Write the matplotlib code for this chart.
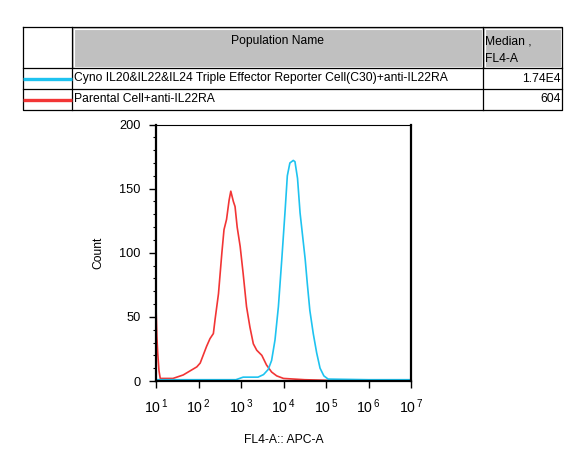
import matplotlib.pyplot as plt
import numpy as np
from matplotlib.patches import Rectangle
from matplotlib.ticker import FixedLocator, LogLocator, NullFormatter, MultipleLocator

plt.rcParams['font.family'] = ['Liberation Sans', 'DejaVu Sans']
plt.rcParams['mathtext.fontset'] = 'custom'
plt.rcParams['mathtext.rm'] = 'Liberation Sans'

# histogram outlines: log10(FL4-A) vs count
red_log = [1.00, 1.02, 1.04, 1.07, 1.10, 1.40, 1.64, 1.96, 2.04, 2.19, 2.27, 2.35, 2.39,
           2.47, 2.55, 2.60, 2.66, 2.72, 2.76, 2.82, 2.86, 2.91, 2.98, 3.05, 3.13,
           3.21, 3.29, 3.37, 3.49, 3.60, 3.72, 3.84, 4.00, 4.50, 5.05]
red_count = [58, 35, 22, 8, 2, 2, 4.7, 11, 14, 27, 33, 37, 48,
             68, 100, 118, 126, 141, 148, 140, 136, 120, 105, 84, 58,
             42, 29, 24, 20, 12.5, 7, 4, 2, 1, 0.5]

blue_log = [1.00, 2.88, 3.05, 3.40, 3.53, 3.64, 3.72, 3.80, 3.88, 3.96, 4.04, 4.09,
            4.15, 4.23, 4.27, 4.33, 4.39, 4.45, 4.51, 4.56, 4.62, 4.70, 4.78,
            4.86, 4.95, 5.05, 6.00, 7.00]
blue_count = [1, 1, 3, 3, 5, 9, 16, 32, 58, 95, 134, 160,
              170, 172, 171, 158, 131, 113, 95, 76, 55, 37, 22,
              10, 4, 1.5, 1, 1]

pop_names = ['Cyno IL20&IL22&IL24 Triple Effector Reporter Cell(C30)+anti-IL22RA',
             'Parental Cell+anti-IL22RA']
medians = ['1.74E4', '604']
pop_colors = ['#1ec3f0', '#f23535']

decades = [1, 2, 3, 4, 5, 6, 7]
y_ticks = [0, 50, 100, 150, 200]

fs = 8.7

fig = plt.figure(figsize=(5.76, 4.67), dpi=100)

# ---- table on top, drawn in pixel coords ----
tab = fig.add_axes([0, 0, 1, 1])
tab.set_xlim(0, 576)
tab.set_ylim(467, 0)
tab.set_axis_off()

x0, x1, x2, x3 = 23, 72, 483, 562
y0, y1, y2, y3 = 27, 68, 89, 110
for xa, xb in [(x1, x2), (x2, x3)]:
    tab.add_patch(Rectangle((xa, y0), xb - xa, y1 - y0, facecolor='#c0c0c0', edgecolor='none'))
    tab.add_patch(Rectangle((xa + 1.5, y0 + 1.5), xb - xa - 3, y1 - y0 - 3,
                            facecolor='none', edgecolor='white', lw=0.8))
lk = dict(color='black', lw=0.9)
tab.plot([x0, x3, x3, x0, x0], [y0, y0, y3, y3, y0], **lk)
for yy in (y1, y2):
    tab.plot([x0, x3], [yy, yy], **lk)
for xx in (x1, x2):
    tab.plot([xx, xx], [y0, y3], **lk)

tab.text((x1 + x2) / 2, 41, 'Population Name', ha='center', va='center', fontsize=fs)
tab.text(x2 + 2, 41, 'Median ,', ha='left', va='center', fontsize=fs)
tab.text(x2 + 2, 59, 'FL4-A', ha='left', va='center', fontsize=fs)
for i, (nm, md, col) in enumerate(zip(pop_names, medians, pop_colors)):
    yc = (y1 + y2) / 2 if i == 0 else (y2 + y3) / 2
    tab.plot([x0, x1], [yc, yc], color=col, lw=2.4, solid_capstyle='butt')
    tab.text(x1 + 2, yc, nm, ha='left', va='center', fontsize=fs)
    tab.text(x3 - 1, yc, md, ha='right', va='center', fontsize=fs)

# ---- histogram ----
ax = fig.add_axes([156 / 576, 1 - 381 / 467, 255 / 576, 256.5 / 467])
ax.plot(10 ** np.array(red_log), red_count, color=pop_colors[1], lw=1.2)
ax.plot(10 ** np.array(blue_log), blue_count, color=pop_colors[0], lw=1.2)

ax.set_xscale('log')
ax.set_xlim(10 ** decades[0], 10 ** decades[-1])
ax.set_ylim(0, 200)
ax.xaxis.set_major_locator(FixedLocator([10.0 ** d for d in decades]))
ax.set_xticklabels([r'$\mathregular{10^{\,%d}}$' % d for d in decades])
ax.xaxis.set_minor_locator(LogLocator(base=10, subs=np.arange(2, 10)))
ax.xaxis.set_minor_formatter(NullFormatter())
ax.set_yticks(y_ticks)
ax.yaxis.set_minor_locator(MultipleLocator(10))

ax.tick_params(which='major', direction='out', length=5, width=1, labelsize=fs + 0.5, pad=6)
ax.tick_params(which='minor', direction='out', length=2.5, width=0.8)
ax.tick_params(axis='x', which='major', pad=7, labelsize=fs + 1.5)

for side in ('left', 'bottom', 'right'):
    ax.spines[side].set_linewidth(1.6)
ax.spines['top'].set_linewidth(0.8)

ax.set_xlabel('FL4-A:: APC-A', fontsize=fs, labelpad=13)
ax.set_ylabel('Count', fontsize=fs, labelpad=11)

fig.savefig('out.png', dpi=100)
